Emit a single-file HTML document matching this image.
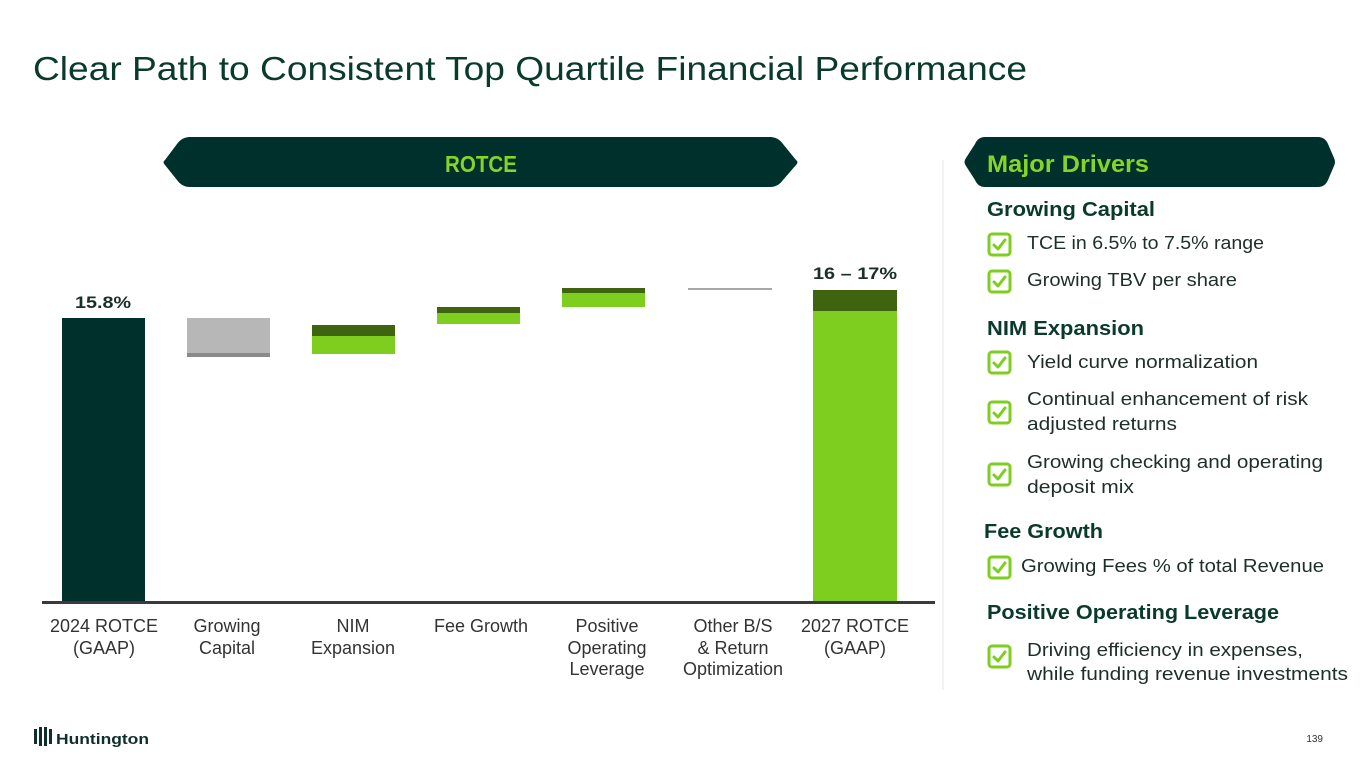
<!DOCTYPE html>
<html><head><meta charset="utf-8"><style>
html,body{margin:0;padding:0;background:#fff;}
svg{display:block;}
text{font-family:"Liberation Sans",sans-serif;}
</style></head><body>
<svg width="1365" height="768" viewBox="0 0 1365 768" xmlns="http://www.w3.org/2000/svg">
<text x="33" y="80" font-size="33" fill="#0a3a2c" textLength="994" lengthAdjust="spacingAndGlyphs">Clear Path to Consistent Top Quartile Financial Performance</text>

<!-- ROTCE banner -->
<path d="M190,137 L770,137 Q778,137 783,144 L796,160 Q799,162 796,165 L783,180 Q778,187 770,187 L190,187 Q182,187 177,180 L165,165 Q162,162 165,160 L177,144 Q182,137 190,137 Z" fill="#00302b"/>
<text x="481" y="172" font-size="23" font-weight="bold" fill="#84d42a" text-anchor="middle" textLength="72" lengthAdjust="spacingAndGlyphs">ROTCE</text>

<!-- Major Drivers banner -->
<path d="M985,137 L1318,137 Q1325,137 1328,144 L1334,158 Q1336,162 1334,166 L1328,180 Q1325,187 1318,187 L985,187 Q978,187 975,180 L966,166 Q963,162 966,158 L975,144 Q978,137 985,137 Z" fill="#00302b"/>
<text x="987" y="172" font-size="24" font-weight="bold" fill="#84d42a" textLength="162" lengthAdjust="spacingAndGlyphs">Major Drivers</text>

<line x1="943" y1="160" x2="943" y2="690" stroke="#e4e4e4" stroke-width="1"/>

<!-- bars -->
<rect x="62" y="318" width="83" height="284" fill="#00302b"/>
<rect x="187" y="318" width="83" height="35" fill="#b7b7b7"/>
<rect x="187" y="353" width="83" height="4" fill="#8a8a8a"/>
<rect x="312" y="325" width="83" height="11" fill="#3f640f"/>
<rect x="312" y="336" width="83" height="18" fill="#7dce1f"/>
<rect x="437" y="307" width="83" height="6" fill="#3f640f"/>
<rect x="437" y="313" width="83" height="11" fill="#7dce1f"/>
<rect x="562" y="288" width="83" height="5" fill="#3f640f"/>
<rect x="562" y="293" width="83" height="14" fill="#7dce1f"/>
<rect x="688" y="288" width="84" height="2" fill="#a8a8a8"/>
<rect x="813" y="290" width="84" height="21" fill="#3f640f"/>
<rect x="813" y="311" width="84" height="291" fill="#7dce1f"/>
<rect x="42" y="601" width="893" height="3" fill="#3a3a3a"/>

<text x="103" y="308" font-size="17" font-weight="bold" fill="#1a2e2a" text-anchor="middle" textLength="56" lengthAdjust="spacingAndGlyphs">15.8%</text>
<text x="855" y="279" font-size="17" font-weight="bold" fill="#1a2e2a" text-anchor="middle" textLength="84" lengthAdjust="spacingAndGlyphs">16 – 17%</text>

<g font-size="18" fill="#333" text-anchor="middle">
<text x="104" y="632">2024 ROTCE</text><text x="104" y="654">(GAAP)</text>
<text x="227" y="632">Growing</text><text x="227" y="654">Capital</text>
<text x="353" y="632">NIM</text><text x="353" y="654">Expansion</text>
<text x="481" y="632">Fee Growth</text>
<text x="607" y="632">Positive</text><text x="607" y="654">Operating</text><text x="607" y="675">Leverage</text>
<text x="733" y="632">Other B/S</text><text x="733" y="654">&amp; Return</text><text x="733" y="675">Optimization</text>
<text x="855" y="632">2027 ROTCE</text><text x="855" y="654">(GAAP)</text>
</g>

<!-- drivers -->
<g font-size="20" font-weight="bold" fill="#0a3a2c">
<text x="987" y="216" textLength="168" lengthAdjust="spacingAndGlyphs">Growing Capital</text>
<text x="987" y="335" textLength="157" lengthAdjust="spacingAndGlyphs">NIM Expansion</text>
<text x="984" y="538" textLength="119" lengthAdjust="spacingAndGlyphs">Fee Growth</text>
<text x="987" y="619" textLength="292" lengthAdjust="spacingAndGlyphs">Positive Operating Leverage</text>
</g>
<g font-size="18" fill="#1f2e2a">
<text x="1027" y="249" textLength="237" lengthAdjust="spacingAndGlyphs">TCE in 6.5% to 7.5% range</text>
<text x="1027" y="286" textLength="210" lengthAdjust="spacingAndGlyphs">Growing TBV per share</text>
<text x="1027" y="368" textLength="231" lengthAdjust="spacingAndGlyphs">Yield curve normalization</text>
<text x="1027" y="405" textLength="281" lengthAdjust="spacingAndGlyphs">Continual enhancement of risk</text>
<text x="1027" y="430" textLength="150" lengthAdjust="spacingAndGlyphs">adjusted returns</text>
<text x="1027" y="468" textLength="296" lengthAdjust="spacingAndGlyphs">Growing checking and operating</text>
<text x="1027" y="493" textLength="107" lengthAdjust="spacingAndGlyphs">deposit mix</text>
<text x="1021" y="572" textLength="303" lengthAdjust="spacingAndGlyphs">Growing Fees % of total Revenue</text>
<text x="1027" y="656" textLength="276" lengthAdjust="spacingAndGlyphs">Driving efficiency in expenses,</text>
<text x="1027" y="680" textLength="321" lengthAdjust="spacingAndGlyphs">while funding revenue investments</text>
</g>
<g fill="none" stroke="#7dce1f" stroke-width="3" stroke-linecap="round" stroke-linejoin="round">
<g transform="translate(988,233)"><rect x="1" y="1" width="21" height="21" rx="3"/><path d="M6,12 L10,16 L17,7"/></g>
<g transform="translate(988,270)"><rect x="1" y="1" width="21" height="21" rx="3"/><path d="M6,12 L10,16 L17,7"/></g>
<g transform="translate(988,351)"><rect x="1" y="1" width="21" height="21" rx="3"/><path d="M6,12 L10,16 L17,7"/></g>
<g transform="translate(988,401)"><rect x="1" y="1" width="21" height="21" rx="3"/><path d="M6,12 L10,16 L17,7"/></g>
<g transform="translate(988,463)"><rect x="1" y="1" width="21" height="21" rx="3"/><path d="M6,12 L10,16 L17,7"/></g>
<g transform="translate(988,556)"><rect x="1" y="1" width="21" height="21" rx="3"/><path d="M6,12 L10,16 L17,7"/></g>
<g transform="translate(988,645)"><rect x="1" y="1" width="21" height="21" rx="3"/><path d="M6,12 L10,16 L17,7"/></g>
</g>

<!-- logo -->
<g fill="#0e2f2a">
<rect x="34" y="729" width="3" height="15"/><rect x="39" y="727" width="3" height="19"/><rect x="44" y="727" width="3" height="19"/><rect x="49" y="729" width="3" height="15"/>
</g>
<text x="56" y="744" font-size="15" font-weight="bold" fill="#0e2f2a" textLength="93" lengthAdjust="spacingAndGlyphs">Huntington</text>
<text x="1323" y="742" font-size="10" fill="#333" text-anchor="end">139</text>
</svg>
</body></html>
